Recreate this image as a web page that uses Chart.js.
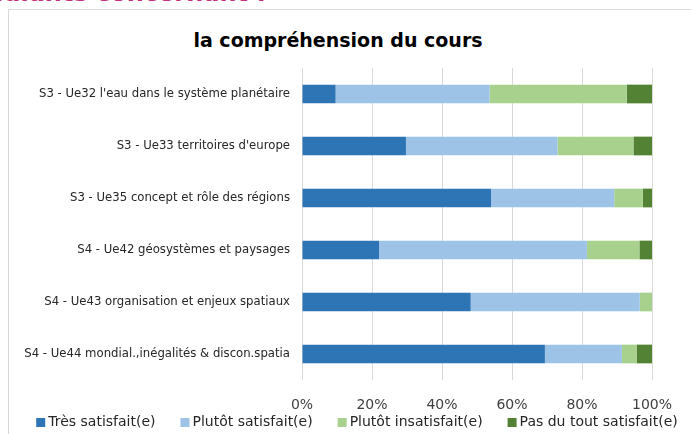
<!DOCTYPE html>
<html lang="fr">
<head>
<meta charset="utf-8">
<title>la compréhension du cours</title>
<script src="https://cdn.jsdelivr.net/npm/chart.js@4.4.1/dist/chart.umd.min.js"></script>
<style>
  html, body { margin: 0; padding: 0; background: #fff; }
  body { width: 691px; height: 434px; overflow: hidden; position: relative; font-family: "DejaVu Sans", sans-serif; }
  #heading {
    position: absolute; right: calc(100% - 266px); top: -19px;
    white-space: nowrap; font: bold 24px/24px "DejaVu Sans", sans-serif; color: #C2307E;
  }
  #frame {
    position: absolute; left: 8px; top: 9px; width: 700px; height: 440px;
    border: 1px solid #D9D9D9; background: #fff;
  }
  #title {
    position: absolute; left: 0; top: 31px; width: 676px; text-align: center;
    font: bold 19px/19px "DejaVu Sans", sans-serif; color: #000;
  }
  #wrap { position: absolute; left: 9px; top: 10px; width: 696px; height: 424px; }
</style>
</head>
<body>
<div id="heading">Satisfaction des étudiants concernant :</div>
<div id="frame"></div>
<div id="title">la compréhension du cours</div>
<div id="wrap"><canvas id="chart"></canvas></div>
<script>
// Courses evaluated
const courses = [
  "S3 - Ue32 l'eau dans le système planétaire",
  "S3 - Ue33 territoires d'europe",
  "S3 - Ue35 concept et rôle des régions",
  "S4 - Ue42 géosystèmes et paysages",
  "S4 - Ue43 organisation et enjeux spatiaux",
  "S4 - Ue44 mondial.,inégalités & discon.spatia"
];

// Share of answers per course, in percent
const tresSatisfait       = [9.6, 29.7, 54.0, 22.0, 48.2, 69.4];
const plutotSatisfait     = [44.0, 43.3, 35.2, 59.4, 48.3, 22.0];
const plutotInsatisfait   = [39.2, 21.7, 8.2, 15.0, 3.5, 4.2];
const pasDuToutSatisfait  = [7.2, 5.3, 2.6, 3.6, 0, 4.4];

const seriesNames = ["Très satisfait(e)", "Plutôt satisfait(e)", "Plutôt insatisfait(e)", "Pas du tout satisfait(e)"];
const seriesColors = ["#2E75B6", "#9DC3E6", "#A9D18E", "#548235"];

const xTickStep = 20;

Chart.defaults.font.family = '"DejaVu Sans", sans-serif';
Chart.defaults.color = '#404040';

const seriesValues = [tresSatisfait, plutotSatisfait, plutotInsatisfait, pasDuToutSatisfait];

// Single-row legend with compact swatches and wide gaps between entries
const inlineLegend = {
  id: 'inlineLegend',
  afterDraw(chart) {
    const ctx = chart.ctx;
    const box = 9, gapBoxText = 3, gapItems = 25;
    const font = '14px "DejaVu Sans", sans-serif';
    ctx.save();
    ctx.font = font;
    const items = chart.data.datasets.map(ds => ({
      text: ds.label, color: ds.backgroundColor, w: ctx.measureText(ds.label).width
    }));
    const total = items.reduce((s, it) => s + box + gapBoxText + it.w, 0) + gapItems * (items.length - 1);
    let x = chart.width / 2 - total / 2;
    const yc = 412.5;
    ctx.textBaseline = 'middle';
    ctx.textAlign = 'left';
    items.forEach(it => {
      ctx.fillStyle = it.color;
      ctx.fillRect(x, yc - box / 2, box, box);
      ctx.fillStyle = '#262626';
      ctx.fillText(it.text, x + box + gapBoxText, yc);
      x += box + gapBoxText + it.w + gapItems;
    });
    ctx.restore();
  }
};

new Chart(document.getElementById('chart'), {
  type: 'bar',
  data: {
    labels: courses,
    datasets: seriesValues.map((vals, i) => ({
      label: seriesNames[i],
      data: vals,
      backgroundColor: seriesColors[i],
      borderWidth: 0,
      categoryPercentage: 0.36,
      barPercentage: 1,
      yAxisID: 'y'
    }))
  },
  options: {
    indexAxis: 'y',
    responsive: true,
    maintainAspectRatio: false,
    animation: false,
    layout: { padding: { top: 58, left: 0, right: 0, bottom: 0 } },
    scales: {
      x: {
        stacked: true,
        min: 0,
        max: 100,
        afterFit: (scale) => { scale.height = 54; },
        grid: { color: '#D9D9D9', lineWidth: 1, drawTicks: false },
        border: { display: false },
        ticks: {
          stepSize: xTickStep,
          padding: 17,
          color: '#404040',
          font: { size: 14 },
          callback: (v) => v + '%'
        }
      },
      y: {
        stacked: true,
        afterFit: (scale) => { scale.width = 293; },
        grid: { display: false, drawTicks: false },
        border: { display: false },
        ticks: { padding: 12, color: '#262626', font: { size: 11.7 } }
      },
      yRight: {
        type: 'category',
        position: 'right',
        afterFit: (scale) => { scale.width = 53; },
        grid: { display: false, drawTicks: false },
        border: { display: false },
        ticks: { display: false }
      }
    },
    plugins: {
      legend: { display: false },
      title: { display: false },
      tooltip: { enabled: false }
    }
  },
  plugins: [inlineLegend]
});
</script>
</body>
</html>
